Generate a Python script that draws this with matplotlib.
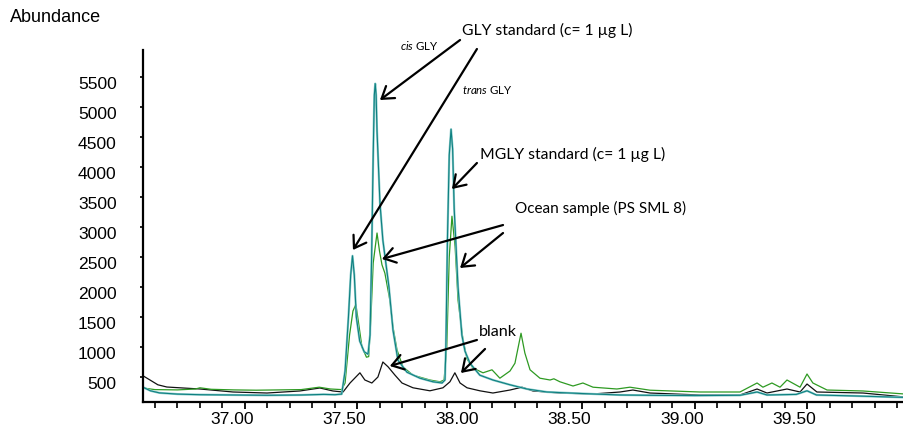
import matplotlib.pyplot as plt
from matplotlib.ticker import MultipleLocator, FormatStrFormatter
from matplotlib.transforms import ScaledTranslation

plt.rcParams['font.family'] = ['Liberation Sans', 'DejaVu Sans']
plt.rcParams['mathtext.fontset'] = 'custom'
plt.rcParams['mathtext.it'] = 'Lato:italic'
plt.rcParams['mathtext.rm'] = 'Lato'

# retention time (min) / abundance pairs
std_time = [36.547, 36.58, 36.62, 36.70, 36.80, 36.95, 37.10, 37.25, 37.35, 37.40,
            37.43, 37.445, 37.46, 37.470, 37.478, 37.486, 37.495, 37.510, 37.530, 37.547,
            37.556, 37.563, 37.570, 37.575, 37.579, 37.583, 37.587, 37.600, 37.613, 37.640,
            37.658, 37.680, 37.720, 37.778, 37.836, 37.876, 37.889, 37.893, 37.900, 37.908,
            37.916, 37.923, 37.930, 37.947, 37.964, 37.978, 38.000, 38.044, 38.102, 38.178,
            38.253, 38.342, 38.444, 38.547, 38.667, 38.800, 39.000, 39.200, 39.276, 39.32,
            39.45, 39.498, 39.54, 39.70, 39.93]
std_abund = [330, 270, 235, 215, 205, 200, 195, 200, 210, 205,
             215, 600, 1500, 2200, 2520, 2200, 1500, 1100, 920, 880,
             1200, 2500, 4200, 5200, 5390, 5200, 4600, 3400, 2780, 2000,
             1280, 780, 580, 480, 420, 400, 450, 1000, 2800, 4200,
             4630, 4300, 3300, 2000, 1200, 930, 730, 530, 450, 370,
             300, 250, 233, 217, 200, 195, 190, 195, 250, 200,
             210, 270, 200, 185, 160]

ocean_time = [36.547, 36.56, 36.60, 36.70, 36.78, 36.80, 36.85, 36.95, 37.05, 37.15,
              37.25, 37.33, 37.38, 37.43, 37.445, 37.465, 37.480, 37.493, 37.505, 37.520,
              37.540, 37.550, 37.560, 37.570, 37.587, 37.598, 37.609, 37.622, 37.644, 37.658,
              37.676, 37.702, 37.747, 37.822, 37.867, 37.885, 37.897, 37.908, 37.920, 37.934,
              37.947, 37.969, 37.987, 38.013, 38.058, 38.098, 38.133, 38.178, 38.200, 38.227,
              38.244, 38.267, 38.311, 38.356, 38.373, 38.400, 38.458, 38.502, 38.547, 38.653,
              38.711, 38.800, 39.022, 39.200, 39.276, 39.302, 39.342, 39.378, 39.409, 39.467,
              39.498, 39.524, 39.587, 39.747, 39.93]
ocean_abund = [330, 310, 290, 285, 300, 320, 295, 285, 280, 285,
               290, 330, 300, 290, 400, 1200, 1600, 1710, 1400, 1000,
               830, 840, 1500, 2400, 2900, 2600, 2370, 2230, 1780, 1330,
               950, 670, 530, 450, 420, 450, 1000, 2500, 3180, 2670,
               1780, 1120, 800, 650, 570, 620, 480, 600, 730, 1230,
               900, 620, 480, 450, 470, 420, 350, 400, 330, 300,
               330, 280, 250, 250, 400, 330, 400, 330, 450, 330,
               550, 400, 283, 267, 217]

blank_time = [36.547, 36.578, 36.613, 36.653, 36.800, 36.947, 37.098, 37.244, 37.333, 37.391,
              37.436, 37.467, 37.511, 37.533, 37.564, 37.591, 37.613, 37.636, 37.667, 37.698,
              37.747, 37.822, 37.880, 37.911, 37.933, 37.956, 37.987, 38.044, 38.102, 38.178,
              38.231, 38.280, 38.400, 38.547, 38.667, 38.724, 38.800, 39.022, 39.200, 39.276,
              39.320, 39.409, 39.467, 39.498, 39.542, 39.747, 39.93]
blank_abund = [520, 450, 370, 333, 300, 250, 233, 267, 317, 267,
               250, 400, 570, 450, 400, 500, 750, 670, 530, 400,
               320, 270, 320, 420, 570, 400, 320, 270, 233, 283,
               330, 267, 233, 217, 250, 283, 233, 200, 200, 300,
               233, 300, 250, 383, 250, 233, 167]

y_ticks = [500, 1000, 1500, 2000, 2500, 3000, 3500, 4000, 4500, 5000, 5500]

fig = plt.figure(figsize=(9.04, 4.29), dpi=100)
ax = fig.add_axes([0.1582, 0.0629, 0.8418, 0.8205])

ax.plot(blank_time, blank_abund, color='#111111', lw=0.9)
ax.plot(ocean_time, ocean_abund, color='#2e9a22', lw=0.9)
ax.plot(std_time, std_abund, color='#8ccccc', lw=1.6)
ax.plot(std_time, std_abund, color='#0e8080', lw=0.8)

ax.set_xlim(36.547, 39.929)
ax.set_ylim(83, 5950)

for side in ('top', 'right'):
    ax.spines[side].set_visible(False)
ax.spines['left'].set_linewidth(1.6)
ax.spines['bottom'].set_linewidth(1.6)

ax.set_yticks(y_ticks)
ax.yaxis.set_major_formatter(FormatStrFormatter('%d'))
ax.tick_params(axis='y', length=2, width=1.2, pad=17, labelsize=12.6)
ax.xaxis.set_major_locator(MultipleLocator(0.5))
ax.xaxis.set_minor_locator(MultipleLocator(0.1))
ax.xaxis.set_major_formatter(FormatStrFormatter('%.2f'))
ax.tick_params(axis='x', which='major', length=5, width=1.3, pad=2, labelsize=12.6)
ax.tick_params(axis='x', which='minor', length=4, width=1.2)

# chromatography software prints labels slightly off their ticks
for lab in ax.get_yticklabels():
    lab.set_transform(lab.get_transform() + ScaledTranslation(0, -0.06, fig.dpi_scale_trans))
for lab in ax.get_xticklabels():
    lab.set_transform(lab.get_transform() + ScaledTranslation(-0.13, 0, fig.dpi_scale_trans))

fig.text(10 / 904, 1 - 18 / 429, 'Abundance', fontsize=13, ha='left', va='center')

note_font = ['Lato', 'DejaVu Sans']
ax.text(37.964, 6283, 'GLY standard (c= 1 µg L)', family=note_font, fontsize=11.3, va='center')
ax.text(38.044, 4217, 'MGLY standard (c= 1 µg L)', family=note_font, fontsize=11.3, va='center')
ax.text(38.200, 3317, 'Ocean sample (PS SML 8)', family=note_font, fontsize=11.0, va='center')
ax.text(38.040, 1250, 'blank', family=note_font, fontsize=11.6, va='center')
ax.text(37.689, 6033, r'$\it{cis}$ GLY', family=note_font, fontsize=8.3, va='center')
ax.text(37.964, 5283, r'$\it{trans}$ GLY', family=note_font, fontsize=8.3, va='center')

arrow = dict(arrowstyle='->,head_length=0.45,head_width=0.3', lw=1.6, color='black',
             mutation_scale=18, shrinkA=0, shrinkB=0)
arrows = [
    ((37.956, 6117), (37.600, 5117)),
    ((38.031, 5967), (37.480, 2617)),
    ((38.031, 4067), (37.920, 3633)),
    ((38.147, 3033), (37.609, 2467)),
    ((38.147, 2900), (37.956, 2317)),
    ((38.031, 1117), (37.644, 683)),
    ((38.067, 967), (37.960, 567)),
]
for start, tip in arrows:
    ax.annotate('', xy=tip, xytext=start, arrowprops=arrow, annotation_clip=False)

fig.savefig('out.png', dpi=100)
